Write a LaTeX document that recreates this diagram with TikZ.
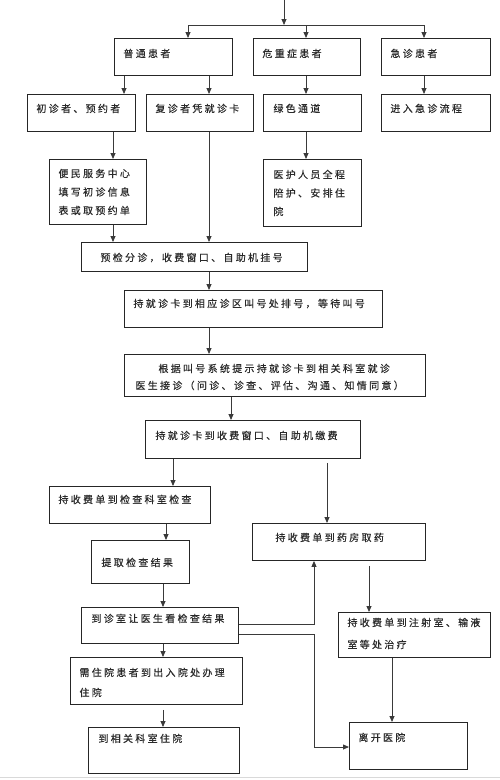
\documentclass[tikz,border=0pt]{standalone}
\usepackage{fontspec}
\newfontfamily\cjk{Noto Sans CJK SC}[LetterSpace=23,FakeBold=0.4]
\usetikzlibrary{arrows.meta}
\definecolor{ln}{HTML}{3A3A3A}
\definecolor{tx}{HTML}{2A2A2A}
\newcommand\sline{\rule{0pt}{9pt}}
% name, x, y, w, h, top pad, baselineskip, content
\newcommand\flowbox[8]{%
  \node[fbox] (#1) at (#2,#3) {\parbox[c][#5pt][t]{#4pt}{\vspace*{#6pt}\fontsize{10}{#7}\selectfont\cjk\color{tx}#8}};}
\begin{document}
\begin{tikzpicture}[x=1pt,y=-1pt,
  fbox/.style={draw=black!85, line width=0.9pt, anchor=north west, inner sep=0pt},
  arr/.style={draw=ln, line width=0.8pt, -{Triangle[length=6pt,width=5pt]}},
  pln/.style={draw=ln, line width=0.8pt}]
\useasboundingbox (0,0) rectangle (500,780);
\draw[black!15, line width=1.5pt] (0,777.5) -- (500,777.5);

\flowbox{pt}{114}{38}{118}{37}{9.8}{19}{\hspace*{9pt}\sline 普通患者}
\flowbox{wz}{253}{38}{107}{37}{9.8}{19}{\hspace*{9pt}\sline 危重症患者}
\flowbox{jz}{381}{38}{109}{37}{9.8}{19}{\hspace*{9pt}\sline 急诊患者}

\flowbox{cz}{27}{94}{108}{37}{8.8}{19}{\hspace*{9pt}\sline 初诊者、预约者}
\flowbox{fz}{146}{94}{107}{37}{8.8}{19}{\hspace*{9pt}\sline 复诊者凭就诊卡}
\flowbox{ls}{263}{94}{98}{37}{8.8}{19}{\hspace*{10pt}\sline 绿色通道}
\flowbox{jr}{381}{94}{109}{37}{8.8}{19}{\hspace*{9pt}\sline 进入急诊流程}

\flowbox{bm}{49}{159}{97}{65}{8.8}{18.5}{\hspace*{9pt}\sline 便民服务中心\\\hspace*{9pt}\sline 填写初诊信息\\\hspace*{9pt}\sline 表或取预约单}
\flowbox{yh}{263}{159}{98}{67}{9.8}{18.5}{\hspace*{10pt}\sline 医护人员全程\\\hspace*{10pt}\sline 陪护、安排住\\\hspace*{10pt}\sline 院}

\flowbox{yj}{81}{242}{226}{29}{9.8}{19}{\hspace*{19pt}\sline 预检分诊，收费窗口、自助机挂号}
\flowbox{hj}{124}{290}{258}{37}{7.8}{19}{\hspace*{9pt}\sline 持就诊卡到相应诊区叫号处排号，等待叫号}
\flowbox{gj}{124}{354}{301}{42}{8.8}{17}{\hspace*{34pt}\sline 根据叫号系统提示持就诊卡到相关科室就诊\\\hspace*{11pt}\sline 医生接诊（问诊、诊查、评估、沟通、知情同意）}
\flowbox{sf}{145}{420}{215}{38}{9.8}{19}{\hspace*{10pt}\sline 持就诊卡到收费窗口、自助机缴费}
\flowbox{jc}{49}{486}{161}{37}{7.8}{19}{\hspace*{9pt}\sline 持收费单到检查科室检查}
\flowbox{yf}{252}{523}{173}{37}{8.8}{19}{\hspace*{23pt}\sline 持收费单到药房取药}
\flowbox{tq}{91}{540}{98}{43}{16.8}{19}{\hspace*{10pt}\sline 提取检查结果}
\flowbox{kz}{81}{607}{157}{36}{5.8}{19}{\hspace*{10pt}\sline 到诊室让医生看检查结果}
\flowbox{zs}{338}{612}{152}{45}{4.8}{22}{\hspace*{9pt}\sline 持收费单到注射室、输液\\\hspace*{9pt}\sline 室等处治疗}
\flowbox{zy}{70}{657}{172}{47}{9.8}{20}{\hspace*{9pt}\sline 需住院患者到出入院处办理\\\hspace*{9pt}\sline 住院}
\flowbox{xg}{88}{727}{151}{46}{5.8}{19}{\hspace*{10pt}\sline 到相关科室住院}
\flowbox{lk}{349}{722}{118}{47}{9.8}{19}{\hspace*{9pt}\sline 离开医院}

% top distribution
\coordinate (start) at (284,0);
\coordinate (bar) at (284,25);
\coordinate (barL) at (188,25);
\coordinate (barR) at (424,25);
\draw[arr] (start) -- (bar);
\draw[pln] (barL) -- (barR);
\draw[arr] (barL) -- (188,0 |- pt.north);
\draw[arr] (306,0 |- bar) -- (306,0 |- wz.north);
\draw[arr] (barR) -- (424,0 |- jz.north);

\draw[arr] (124,0 |- pt.south) -- (124,0 |- cz.north);
\draw[arr] (209,0 |- pt.south) -- (209,0 |- fz.north);
\draw[arr] (306,0 |- wz.south) -- (306,0 |- ls.north);
\draw[arr] (424,0 |- jz.south) -- (424,0 |- jr.north);

\draw[arr] (113,0 |- cz.south) -- (113,0 |- bm.north);
\draw[arr] (306,0 |- ls.south) -- (306,0 |- yh.north);
\draw[arr] (209,0 |- fz.south) -- (209,0 |- yj.north);
\draw[arr] (113,0 |- bm.south) -- (113,0 |- yj.north);

\draw[arr] (209,0 |- yj.south) -- (209,0 |- hj.north);
\draw[arr] (209,0 |- hj.south) -- (209,0 |- gj.north);
\draw[arr] (231,0 |- gj.south) -- (231,0 |- sf.north);
\draw[arr] (173,0 |- sf.south) -- (173,0 |- jc.north);
\draw[arr, shorten <=4pt] (327,0 |- sf.south) -- (327,0 |- yf.north);
\draw[arr] (166,0 |- jc.south) -- (166,0 |- tq.north);
\draw[arr] (163,0 |- tq.south) -- (163,0 |- kz.north);

\draw[arr] (kz.east |- 0,624) -| (314,0 |- yf.south);
\draw[arr] (kz.east |- 0,634) -- (314,634) |- (lk.west |- 0,747);
\draw[arr, shorten <=5pt] (369,0 |- yf.south) -- (369,0 |- zs.north);
\draw[arr] (392,0 |- zs.south) -- (392,0 |- lk.north);
\draw[arr] (163,0 |- kz.south) -- (163,0 |- zy.north);
\draw[arr, shorten <=5pt] (163,0 |- zy.south) -- (163,0 |- xg.north);
\end{tikzpicture}
\end{document}
